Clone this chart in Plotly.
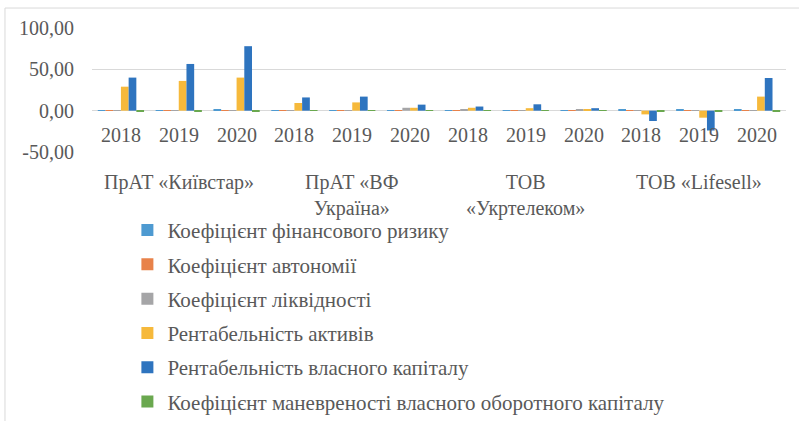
import plotly.graph_objects as go

companies = ["ПрАТ «Київстар»", "ПрАТ «ВФ<br>Україна»", "ТОВ<br>«Укртелеком»", "ТОВ «Lifesell»"]
years = ["2018", "2019", "2020"]

series_names = [
    "Коефіцієнт фінансового ризику",
    "Коефіцієнт автономії",
    "Коефіцієнт ліквідності",
    "Рентабельність активів",
    "Рентабельність власного капіталу",
    "Коефіцієнт маневреності власного оборотного капіталу",
]
fin_risk   = [0.3, 0.3, 1.0, 0.3, 0.3, 0.8, 0.4, 0.4, 0.5, 1.5, 1.5, 1.0]
autonomy   = [0.5, 0.5, 0.5, 0.5, 0.5, 0.5, 0.5, 0.5, 0.5, 0.3, 0.3, 0.4]
liquidity  = [0.3, 0.3, 0.4, 0.5, 0.6, 3.5, 1.0, 0.8, 1.0, 0.3, 0.3, 0.4]
roa        = [29.0, 36.0, 40.0, 9.3, 10.0, 3.5, 3.5, 3.0, 2.0, -4.5, -8.5, 17.0]
roe        = [40.0, 56.5, 78.0, 16.0, 17.0, 7.3, 5.0, 7.7, 3.0, -12.5, -24.0, 39.5]
manoeuvre  = [-0.5, -0.5, -1.0, -0.2, -0.2, -0.3, -0.3, -0.3, -0.3, -1.5, -1.5, -1.0]
colors = ["#4e9ad1", "#e8824a", "#a5a5a7", "#f6b93b", "#2e74bf", "#6aa84f"]

ytick_vals = [-50, 0, 50, 100]
ytick_text = ["-50,00", "0,00", "50,00", "100,00"]

all_series = [fin_risk, autonomy, liquidity, roa, roe, manoeuvre]
xpos = list(range(len(companies) * len(years)))

FONT = "Liberation Serif"
GRAY = "#595959"

fig = go.Figure()
for i, (name, vals) in enumerate(zip(series_names, all_series)):
    fig.add_trace(go.Bar(x=xpos, y=vals, name=name, marker=dict(color=colors[i], line=dict(width=0)),
                         legendgroup=f"g{i}"))

annotations = []
for ci, comp in enumerate(companies):
    for yi, yr in enumerate(years):
        annotations.append(dict(x=ci * 3 + yi, y=-29, xref="x", yref="y", text=yr, showarrow=False,
                                font=dict(family=FONT, size=20, color=GRAY), yanchor="middle"))
    annotations.append(dict(x=ci * 3 + 1, y=-0.138, xref="x", yref="paper", text=comp, showarrow=False,
                            font=dict(family=FONT, size=20, color=GRAY), yanchor="top", align="center"))

fig.update_layout(
    width=799, height=421,
    margin=dict(l=92, r=13, t=28, b=269, autoexpand=False),
    paper_bgcolor="white", plot_bgcolor="white",
    barmode="group", bargap=0.2, bargroupgap=0,
    font=dict(family=FONT, size=20, color=GRAY),
    xaxis=dict(range=[-0.5, 11.5], showticklabels=False, showgrid=False, zeroline=False, ticks=""),
    yaxis=dict(range=[-50, 100], tickvals=ytick_vals, ticktext=ytick_text, showgrid=True,
               gridcolor="#d9d9d9", gridwidth=1, zeroline=True, zerolinecolor="#d9d9d9", zerolinewidth=1,
               ticks="", ticklabelstandoff=17, tickfont=dict(family=FONT, size=20, color=GRAY)),
    legend=dict(x=0.051, y=-0.467, xanchor="left", yanchor="top", orientation="v",
                font=dict(family=FONT, size=21, color=GRAY), tracegroupgap=4, bgcolor="rgba(0,0,0,0)",
                maxheight=400),
    annotations=annotations,
    showlegend=True,
)
fig.add_shape(type="rect", xref="paper", yref="paper", x0=-0.1254, x1=1.05, y0=-2.5, y1=1.161,
              line=dict(color="#d9d9d9", width=1), fillcolor="rgba(0,0,0,0)", layer="below")

fig.write_html("out.html", config={"displayModeBar": False},
               post_script="document.body.style.margin='0';")
